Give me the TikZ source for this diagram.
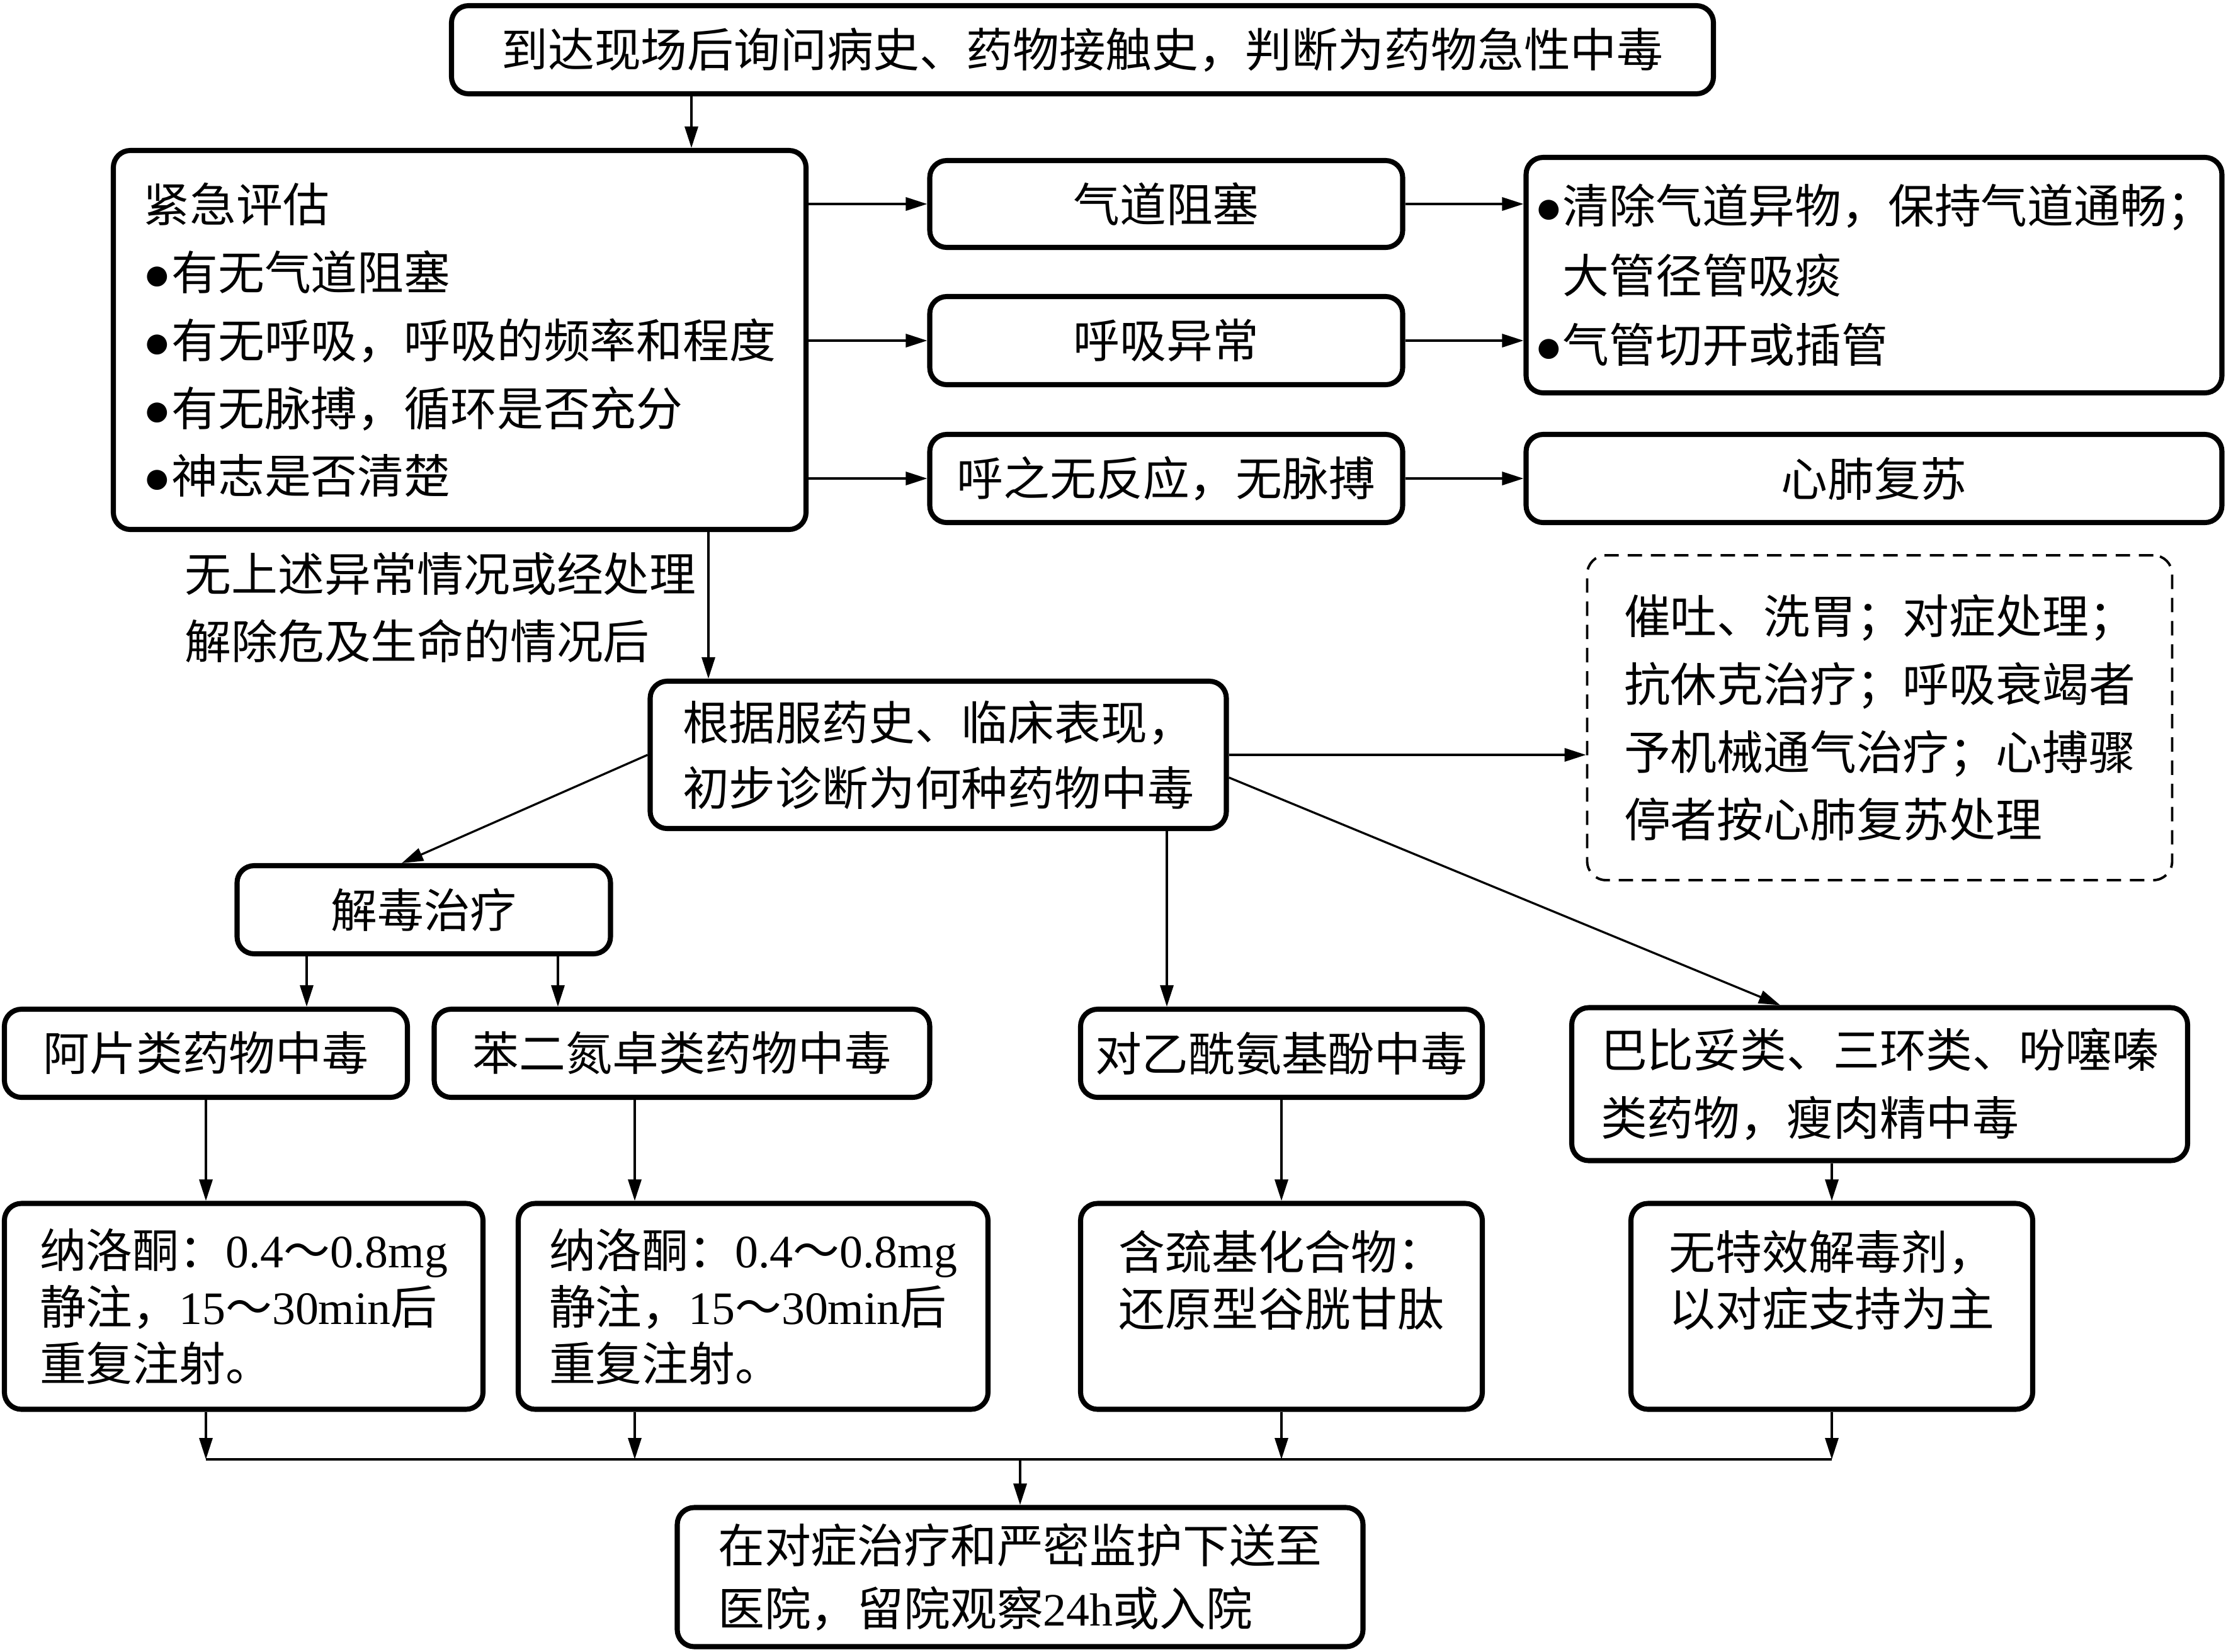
\documentclass[tikz,border=0pt]{standalone}
\usepackage{fontspec}
\setmainfont{Noto Sans CJK SC}
\newfontfamily\lat{Liberation Serif}
\usetikzlibrary{positioning,calc,arrows.meta}
\newcommand{\dotmk}{{\lat ●}}

\begin{document}
\begin{tikzpicture}[
						% 圆角实线框
						box/.style={
							draw=black, line width=2.3pt, rounded corners=0.27cm,
							inner sep=0pt, align=left,
							font=\fontsize{21}{30.7}\selectfont
						},
						% 虚线框
						dashbox/.style={
							draw=black, line width=1.1pt, dash pattern=on 6.5pt off 4pt,
							rounded corners=0.3cm, inner sep=0pt, align=left,
							font=\fontsize{21}{30.7}\selectfont
						},
						% 行距
						tight/.style={font=\fontsize{21}{25.6}\selectfont},
						% 箭头
						arr/.style={-{Triangle[length=3.4mm,width=2.1mm]}, line width=0.95pt},
						link/.style={line width=0.95pt}
						]
						
						\useasboundingbox (0,0) rectangle (35.35,-26.23);
						
						% --- 第一部分：现场评估 ---
						\node[box, minimum width=20.04cm, minimum height=1.40cm] (top) at (17.19,-0.79) {到达现场后询问病史、药物接触史，判断为药物急性中毒};
						
						\node[box, minimum width=11.00cm, minimum height=6.02cm] (pg) at (7.30,-5.40)
						{紧急评估\\\dotmk 有无气道阻塞\\\dotmk 有无呼吸，呼吸的频率和程度\\\dotmk 有无脉搏，循环是否充分\\\dotmk 神志是否清楚};
						
						\node[box, minimum width=7.51cm, minimum height=1.38cm] (qd) at (18.52,-3.24) {气道阻塞};
						\node[box, minimum width=7.51cm, minimum height=1.40cm] (hx) at (18.52,-5.41) {呼吸异常};
						\node[box, minimum width=7.51cm, minimum height=1.40cm] (hz) at (18.52,-7.60) {呼之无反应，无脉搏};
						
						\node[box, minimum width=11.05cm, minimum height=3.74cm, font=\fontsize{21}{31.5}\selectfont] (r1) at (29.76,-4.37)
						{\dotmk 清除气道异物，保持气道通畅；\\\hphantom{\dotmk}大管径管吸痰\\\dotmk 气管切开或插管};
						\node[box, minimum width=11.05cm, minimum height=1.40cm] (xf) at (29.76,-7.60) {心肺复苏};
						
						% 连线
						\coordinate (t1) at (10.98,0);
						\draw[arr] (top.south -| t1) -- (pg.north -| t1);
						\draw[arr] (pg.east |- qd.west) -- (qd.west);
						\draw[arr] (pg.east |- hx.west) -- (hx.west);
						\draw[arr] (pg.east |- hz.west) -- (hz.west);
						\draw[arr] (qd.east) -- (qd.east -| r1.west);
						\draw[arr] (hx.east) -- (hx.east -| r1.west);
						\draw[arr] (hz.east) -- (xf.west);
						
						% --- 第二部分：初步诊断 ---
						\node[box, minimum width=9.15cm, minimum height=2.34cm, font=\fontsize{21}{29.6}\selectfont] (gen) at (14.90,-11.99)
						{根据服药史、临床表现，\\初步诊断为何种药物中毒};
						
						\node[dashbox, minimum width=9.29cm, minimum height=5.16cm] (dash) at (29.85,-11.40)
						{催吐、洗胃；对症处理；\\抗休克治疗；呼吸衰竭者\\予机械通气治疗；心搏骤\\停者按心肺复苏处理};
						
						\coordinate (t2) at (11.25,0);
						\draw[arr] (pg.south -| t2) -- (gen.north -| t2);
						\node[anchor=west, align=left, inner sep=0pt, font=\fontsize{21}{30.7}\selectfont] (note) at (2.93,-9.65)
						{无上述异常情况或经处理\\解除危及生命的情况后};
						\draw[arr] (gen.east) -- (gen.east -| dash.west);
						
						% --- 第三部分：分类处理 ---
						\node[box, minimum width=5.93cm, minimum height=1.40cm] (jd) at (6.73,-14.45) {解毒治疗};
						
						\node[box, minimum width=6.40cm, minimum height=1.40cm] (ap) at (3.27,-16.73) {阿片类药物中毒};
						\node[box, minimum width=7.87cm, minimum height=1.40cm] (bz) at (10.83,-16.73) {苯二氮卓类药物中毒};
						\node[box, minimum width=6.38cm, minimum height=1.40cm] (dy) at (20.35,-16.73) {对乙酰氨基酚中毒};
						\node[box, minimum width=9.78cm, minimum height=2.43cm] (bb) at (29.85,-17.22)
						{巴比妥类、三环类、吩噻嗪\\类药物，瘦肉精中毒};
						
						\draw[arr] (gen.west) -- ([xshift=-3.5mm]jd.north);
						\coordinate (t3) at (4.87,0);
						\coordinate (t4) at (8.86,0);
						\draw[arr] (jd.south -| t3) -- (ap.north -| t3);
						\draw[arr] (jd.south -| t4) -- (bz.north -| t4);
						\coordinate (t5) at (18.53,0);
						\draw[arr] (gen.south -| t5) -- (dy.north -| t5);
						\draw[arr] ([yshift=-3.6mm]gen.east) -- ([xshift=-15.8mm]bb.north);
						
						% 具体用药
						\node[box, tight, minimum width=7.60cm, minimum height=3.27cm] (n1) at (3.87,-20.75)
						{纳洛酮：{\lat 0.4}～{\lat 0.8mg}\\静注，{\lat 15}～{\lat 30min}后\\重复注射。};
						\node[box, tight, minimum width=7.46cm, minimum height=3.27cm] (n2) at (11.96,-20.75)
						{纳洛酮：{\lat 0.4}～{\lat 0.8mg}\\静注，{\lat 15}～{\lat 30min}后\\重复注射。};
						\node[box, tight, minimum width=6.38cm, minimum height=3.27cm] (hq) at (20.35,-20.75)
						{含巯基化合物：\\还原型谷胱甘肽\\\mbox{}};
						\node[box, tight, minimum width=6.38cm, minimum height=3.27cm] (wt) at (29.09,-20.75)
						{无特效解毒剂，\\以对症支持为主\\\mbox{}};
						
						\coordinate (t6) at (10.08,0);
						\draw[arr] (ap.south) -- (ap.south |- n1.north);
						\draw[arr] (bz.south -| t6) -- (n2.north -| t6);
						\draw[arr] (dy.south) -- (hq.north);
						\draw[arr] (bb.south -| wt.north) -- (wt.north);
						
						% --- 第四部分：汇总送院 ---
						\node[box, minimum width=10.89cm, minimum height=2.21cm, font=\fontsize{21}{28.2}\selectfont] (fin) at (16.20,-25.05)
						{在对症治疗和严密监护下送至\\医院，留院观察{\lat 24h}或入院};
						
						\coordinate (j) at (0,-23.18);
						\draw[arr] (n1.south -| ap.south) -- (j -| ap.south);
						\draw[arr] (n2.south -| t6) -- (j -| t6);
						\draw[arr] (hq.south) -- (hq.south |- j);
						\draw[arr] (wt.south) -- (wt.south |- j);
						\draw[link] (j -| ap.south) -- (j -| wt.south);
						\draw[arr] (fin.north |- j) -- (fin.north);
						
					\end{tikzpicture}
\end{document}
